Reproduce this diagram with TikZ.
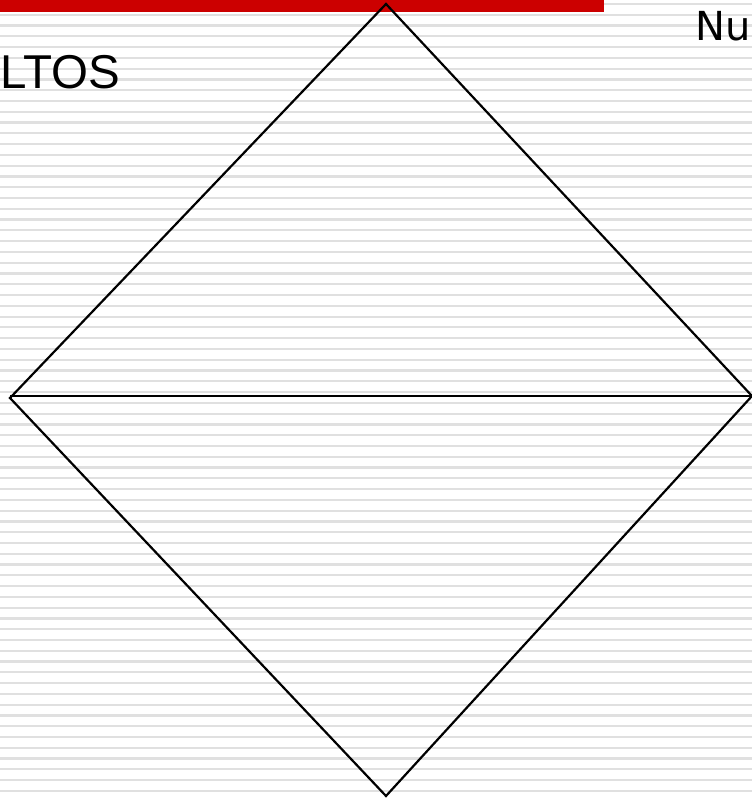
\documentclass[tikz,border=0pt]{standalone}
\usepackage{fontspec}
\setmainfont{Liberation Sans}
\newfontfamily\nufont{DejaVu Sans}
\definecolor{barred}{RGB}{204,0,0}
\definecolor{stripe}{RGB}{224,224,224}
\begin{document}
\begin{tikzpicture}[x=1pt,y=1pt,
  stripeline/.style={draw=stripe,line width=2.2pt},
  edge/.style={draw=black,line width=2.2pt,line join=miter},
  midline/.style={draw=black,line width=2.7pt}]
\useasboundingbox (0,0) rectangle (752,798);
\fill[white] (0,0) rectangle (752,798);
\foreach \k in {0,...,74}{
  \draw[stripeline] (0,{798-4-10.78*\k}) -- (752,{798-4-10.78*\k});
}
\fill[barred] (0,786) rectangle (604,798);
\coordinate (top) at (386,794);
\coordinate (left) at (10,400);
\coordinate (right) at (752,402);
\coordinate (bottom) at (386,2);
\coordinate (hl) at (10,402);
\draw[edge] (left) -- (top) -- (right) -- (bottom) -- cycle;
\draw[midline] (hl) -- (right);
\node[anchor=base west,inner sep=0,font=\fontsize{47.5}{50}\selectfont] (ltos) at (0,709) {LTOS};
\node[anchor=base west,inner sep=0,font=\nufont\fontsize{40}{42}\selectfont] (nu) at (695,757.3) {Nu};
\end{tikzpicture}
\end{document}
